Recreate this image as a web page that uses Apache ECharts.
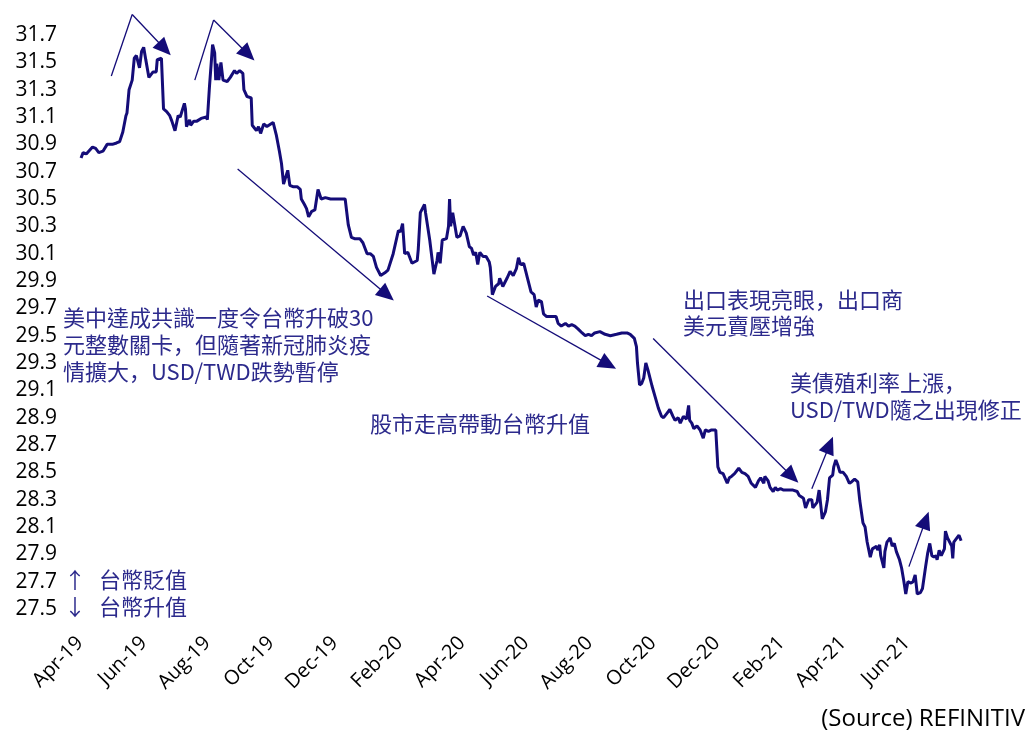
<!DOCTYPE html>
<html>
<head>
<meta charset="utf-8">
<script src="https://cdn.jsdelivr.net/npm/echarts@6/dist/echarts.min.js"></script>
<style>
  html, body { margin: 0; padding: 0; background: #ffffff; }
  #chart { width: 1029px; height: 732px; }
</style>
</head>
<body>
<div id="chart"></div>
<script>
// USD/TWD daily closes, Apr 2019 – Jul 2021
const dates = [
  '2019-04-02','2019-04-04','2019-04-07','2019-04-13','2019-04-16','2019-04-19','2019-04-23','2019-04-27',
  '2019-05-02','2019-05-06','2019-05-09','2019-05-12','2019-05-15','2019-05-16','2019-05-18','2019-05-21',
  '2019-05-23','2019-05-25','2019-05-28','2019-05-30','2019-06-01','2019-06-03','2019-06-06','2019-06-10',
  '2019-06-13','2019-06-14','2019-06-18','2019-06-20','2019-06-23','2019-06-26','2019-06-28','2019-07-01',
  '2019-07-04','2019-07-06','2019-07-10','2019-07-11','2019-07-12','2019-07-15','2019-07-16','2019-07-19',
  '2019-07-22','2019-07-26','2019-07-31','2019-08-01','2019-08-03','2019-08-06','2019-08-08','2019-08-09',
  '2019-08-10','2019-08-12','2019-08-14','2019-08-16','2019-08-20','2019-08-23','2019-08-27','2019-08-29',
  '2019-09-01','2019-09-04','2019-09-05','2019-09-08','2019-09-12','2019-09-13','2019-09-17','2019-09-19',
  '2019-09-21','2019-09-24','2019-09-27','2019-10-03','2019-10-06','2019-10-09','2019-10-11','2019-10-13',
  '2019-10-17','2019-10-19','2019-10-22','2019-10-26','2019-10-29','2019-10-30','2019-11-02','2019-11-04',
  '2019-11-06','2019-11-09','2019-11-12','2019-11-15','2019-11-18','2019-11-22','2019-11-27','2019-12-03',
  '2019-12-11','2019-12-14','2019-12-17','2019-12-20','2019-12-25','2019-12-28','2020-01-01','2020-01-04',
  '2020-01-07','2020-01-10','2020-01-14','2020-01-18','2020-01-21','2020-01-26','2020-01-31','2020-02-02',
  '2020-02-04','2020-02-06','2020-02-09','2020-02-13','2020-02-18','2020-02-19','2020-02-21','2020-02-25',
  '2020-02-26','2020-03-01','2020-03-05','2020-03-08','2020-03-09','2020-03-11','2020-03-13','2020-03-17',
  '2020-03-19','2020-03-20','2020-03-21','2020-03-23','2020-03-25','2020-03-27','2020-03-30','2020-04-02',
  '2020-04-05','2020-04-08','2020-04-10','2020-04-12','2020-04-14','2020-04-16','2020-04-18','2020-04-21',
  '2020-04-24','2020-04-27','2020-04-28','2020-04-30','2020-05-03','2020-05-06','2020-05-07','2020-05-10',
  '2020-05-14','2020-05-17','2020-05-20','2020-05-23','2020-05-25','2020-05-27','2020-05-30','2020-06-01',
  '2020-06-03','2020-06-06','2020-06-09','2020-06-11','2020-06-13','2020-06-16','2020-06-18','2020-06-21',
  '2020-06-26','2020-06-30','2020-07-02','2020-07-05','2020-07-09','2020-07-12','2020-07-15','2020-07-18',
  '2020-07-21','2020-07-25','2020-07-28','2020-07-31','2020-08-03','2020-08-06','2020-08-11','2020-08-16',
  '2020-08-21','2020-08-27','2020-09-01','2020-09-06','2020-09-09','2020-09-13','2020-09-15','2020-09-16',
  '2020-09-18','2020-09-20','2020-09-22','2020-09-24','2020-09-26','2020-09-30','2020-10-03','2020-10-06',
  '2020-10-09','2020-10-11','2020-10-14','2020-10-17','2020-10-20','2020-10-22','2020-10-25','2020-10-27',
  '2020-10-30','2020-11-02','2020-11-04','2020-11-05','2020-11-07','2020-11-09','2020-11-12','2020-11-15',
  '2020-11-18','2020-11-20','2020-11-23','2020-11-26','2020-11-30','2020-12-02','2020-12-04','2020-12-07',
  '2020-12-11','2020-12-13','2020-12-15','2020-12-18','2020-12-22','2020-12-25','2020-12-28','2020-12-31',
  '2021-01-03','2021-01-07','2021-01-10','2021-01-12','2021-01-15','2021-01-16','2021-01-19','2021-01-21',
  '2021-01-24','2021-01-26','2021-01-28','2021-01-31','2021-02-03','2021-02-08','2021-02-12','2021-02-16',
  '2021-02-18','2021-02-22','2021-02-24','2021-02-27','2021-03-02','2021-03-03','2021-03-07','2021-03-09',
  '2021-03-12','2021-03-15','2021-03-17','2021-03-19','2021-03-22','2021-03-23','2021-03-25','2021-03-27',
  '2021-03-29','2021-04-01','2021-04-04','2021-04-07','2021-04-09','2021-04-12','2021-04-15','2021-04-17',
  '2021-04-20','2021-04-22','2021-04-24','2021-04-27','2021-04-29','2021-05-03','2021-05-04','2021-05-06',
  '2021-05-07','2021-05-10','2021-05-11','2021-05-13','2021-05-16','2021-05-18','2021-05-20','2021-05-22',
  '2021-05-23','2021-05-25','2021-05-27','2021-05-29','2021-05-31','2021-06-02','2021-06-05','2021-06-07',
  '2021-06-09','2021-06-11','2021-06-14','2021-06-16','2021-06-19','2021-06-21','2021-06-23','2021-06-25',
  '2021-06-27','2021-06-29','2021-06-30','2021-07-02','2021-07-04','2021-07-07','2021-07-08','2021-07-10',
  '2021-07-12','2021-07-14','2021-07-15','2021-07-16','2021-07-19','2021-07-21','2021-07-23'
];

const usdTwd = [
  30.80,30.84,30.83,30.88,30.87,30.84,30.85,30.90,
  30.90,30.91,30.92,30.99,31.11,31.13,31.30,31.37,
  31.53,31.55,31.46,31.58,31.61,31.52,31.39,31.43,
  31.43,31.52,31.53,31.16,31.14,31.11,31.07,31.00,
  31.11,31.10,31.20,31.16,31.03,31.08,31.04,31.07,
  31.07,31.09,31.10,31.08,31.32,31.63,31.57,31.37,
  31.49,31.37,31.50,31.37,31.36,31.39,31.44,31.42,
  31.44,31.42,31.30,31.25,31.24,31.04,31.00,31.03,
  30.98,31.05,31.03,31.06,30.97,30.85,30.76,30.61,
  30.71,30.60,30.59,30.59,30.57,30.50,30.46,30.43,
  30.37,30.41,30.42,30.57,30.50,30.51,30.50,30.50,
  30.50,30.31,30.22,30.21,30.21,30.18,30.10,30.10,
  30.08,30.00,29.94,29.96,29.98,30.10,30.27,30.26,
  30.32,30.10,30.11,30.03,30.05,30.13,30.40,30.46,
  30.40,30.20,29.95,30.05,30.11,30.03,30.20,30.21,
  30.30,30.50,30.30,30.40,30.31,30.22,30.23,30.30,
  30.25,30.15,30.14,30.09,30.11,30.02,30.11,30.08,
  30.08,30.04,30.00,29.80,29.86,29.88,29.92,29.86,
  29.92,29.97,29.94,29.99,30.07,30.02,30.03,29.97,
  29.91,29.82,29.80,29.71,29.76,29.75,29.66,29.64,
  29.64,29.64,29.59,29.57,29.59,29.57,29.58,29.57,
  29.55,29.52,29.50,29.51,29.50,29.52,29.53,29.51,
  29.50,29.51,29.52,29.52,29.51,29.48,29.42,29.30,
  29.14,29.15,29.19,29.30,29.25,29.13,29.05,28.97,
  28.91,28.90,28.93,28.96,28.91,28.88,28.90,28.86,
  28.91,28.89,28.99,28.88,28.86,28.82,28.84,28.81,
  28.75,28.81,28.80,28.81,28.81,28.54,28.50,28.49,
  28.42,28.46,28.47,28.49,28.53,28.50,28.49,28.47,
  28.42,28.39,28.44,28.46,28.42,28.47,28.44,28.39,
  28.36,28.39,28.37,28.38,28.37,28.37,28.37,28.36,
  28.33,28.31,28.24,28.30,28.30,28.24,28.28,28.37,
  28.16,28.21,28.30,28.46,28.48,28.54,28.59,28.55,
  28.50,28.50,28.47,28.42,28.43,28.45,28.43,28.29,
  28.13,28.10,27.99,27.88,27.94,27.96,27.93,27.97,
  27.89,27.80,27.92,27.99,28.02,27.96,27.98,27.92,
  27.93,27.86,27.80,27.71,27.61,27.70,27.69,27.70,
  27.75,27.61,27.62,27.65,27.81,27.91,27.98,27.89,
  27.88,27.89,27.86,27.93,27.89,27.94,28.07,28.02,
  27.99,27.96,27.87,27.99,28.02,28.04,28.00
];

// Month labels every two months on the date axis
const labelMonths = [
  '2019-04-01','2019-06-01','2019-08-01','2019-10-01','2019-12-01',
  '2020-02-01','2020-04-01','2020-06-01','2020-08-01','2020-10-01','2020-12-01',
  '2021-02-01','2021-04-01','2021-06-01'
];
const monthNames = ['Jan','Feb','Mar','Apr','May','Jun','Jul','Aug','Sep','Oct','Nov','Dec'];

// Trend arrows, as [date, rate] paths; the last point of each is where the head sits
const trendArrows = [
  [['2019-05-01', 31.40], ['2019-05-21', 31.85], ['2019-06-21', 31.60]],
  [['2019-07-20', 31.37], ['2019-08-07', 31.81], ['2019-09-09', 31.56]],
  [['2019-08-30', 30.72], ['2020-01-20', 29.80]],
  [['2020-04-25', 29.79], ['2020-08-19', 29.29]],
  [['2020-10-01', 29.48], ['2021-02-11', 28.47]],
  [['2021-03-02', 28.38], ['2021-03-19', 28.70]],
  [['2021-06-03', 27.81], ['2021-06-19', 28.15]]
];

const ts = s => echarts.time.parse(s);

const LINE_COLOR = '#140c78';
const NOTE_COLOR = '#2c2a8c';
const CJK = '"Noto Sans CJK TC", "Noto Sans", sans-serif';
const CJK_PUNCT = '"Noto Sans CJK SC", "Noto Sans CJK TC", sans-serif';
const LATIN = '"Open Sans", "Noto Sans", sans-serif';

const arrowSegments = [];
trendArrows.forEach(path => {
  for (let i = 0; i < path.length - 1; i++) {
    const last = i === path.length - 2;
    arrowSegments.push([
      { coord: [ts(path[i][0]), path[i][1]], symbol: 'none' },
      { coord: [ts(path[i + 1][0]), path[i + 1][1]], symbol: last ? 'triangle' : 'none' }
    ]);
  }
});

// note text style; full-width commas sit low-left
function noteStyle(text, lineHeight) {
  return {
    text: text.replace(/，/g, '{p|，}'),
    fill: NOTE_COLOR, fontSize: 22, fontFamily: CJK, lineHeight: lineHeight,
    rich: { p: { fill: NOTE_COLOR, fontSize: 22, fontFamily: CJK_PUNCT, lineHeight: lineHeight } }
  };
}

const chart = echarts.init(document.getElementById('chart'), null, { renderer: 'canvas' });

chart.setOption({
  animation: false,
  backgroundColor: '#ffffff',
  grid: { left: 80, right: 58.5, top: 7.7, bottom: 123 },
  xAxis: {
    type: 'value',
    min: ts('2019-04-01'),
    max: ts('2021-08-01'),
    axisLine: { show: false },
    axisTick: { show: false },
    splitLine: { show: false },
    axisLabel: {
      customValues: labelMonths.map(ts),
      rotate: 45,
      margin: 31,
      color: '#000000',
      fontSize: 20,
      fontFamily: LATIN,
      hideOverlap: false,
      formatter: v => {
        const d = new Date(v);
        return monthNames[d.getMonth()] + '-' + String(d.getFullYear()).slice(2);
      }
    }
  },
  yAxis: {
    type: 'value',
    min: 27.5,
    max: 31.9,
    interval: 0.2,
    axisLine: { show: false },
    axisTick: { show: false },
    splitLine: { show: false },
    axisLabel: {
      margin: 23,
      color: '#000000',
      fontSize: 21,
      fontFamily: LATIN,
      formatter: v => (v > 31.75 ? '' : v.toFixed(1))
    }
  },
  series: [{
    name: 'USD/TWD',
    type: 'line',
    data: dates.map((d, i) => [ts(d), usdTwd[i]]),
    showSymbol: false,
    clip: false,
    lineStyle: { color: LINE_COLOR, width: 3 },
    itemStyle: { color: LINE_COLOR },
    markLine: {
      silent: true,
      animation: false,
      symbolSize: [16, 18],
      label: { show: false },
      lineStyle: { color: LINE_COLOR, width: 1.3, type: 'solid' },
      itemStyle: { color: LINE_COLOR },
      emphasis: { disabled: true },
      data: arrowSegments
    }
  }],
  graphic: [
    {
      type: 'text', left: 63, top: 304,
      style: noteStyle('美中達成共識一度令台幣升破30\n元整數關卡，但隨著新冠肺炎疫\n情擴大，USD/TWD跌勢暫停', 27)
    },
    {
      type: 'text', left: 370, top: 410,
      style: noteStyle('股市走高帶動台幣升值', 27)
    },
    {
      type: 'text', left: 683, top: 287,
      style: noteStyle('出口表現亮眼，出口商\n美元賣壓增強', 26)
    },
    {
      type: 'text', left: 790, top: 369,
      style: noteStyle('美債殖利率上漲，\nUSD/TWD隨之出現修正', 27)
    },
    {
      type: 'text', left: 64, top: 566,
      style: { text: '↑\n↓', fill: NOTE_COLOR, fontSize: 22, fontFamily: CJK, lineHeight: 27 }
    },
    {
      type: 'text', left: 99, top: 566,
      style: { text: '台幣貶值\n台幣升值', fill: NOTE_COLOR, fontSize: 22, fontFamily: CJK, lineHeight: 27 }
    },
    {
      type: 'text', right: 4, top: 707,
      style: { text: '(Source) REFINITIV', fill: '#000000', fontSize: 24, fontFamily: LATIN }
    }
  ]
});
</script>
</body>
</html>
